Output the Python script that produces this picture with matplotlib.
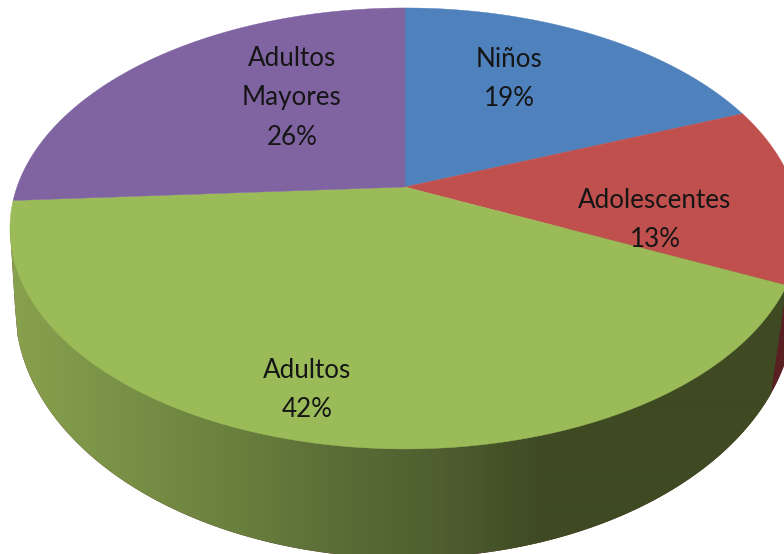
import numpy as np
import matplotlib
matplotlib.use("Agg")
import matplotlib.pyplot as plt
from matplotlib.colors import LinearSegmentedColormap
from matplotlib.patches import Polygon

categories = ["Niños", "Adolescentes", "Adultos", "Adultos\nMayores"]
values = [19, 13, 42, 26]
colors = ["#4f81bd", "#c0504d", "#9bbb59", "#8064a2"]
label_xy = [(509, 79), (655, 220), (307, 390), (292, 98)]

# perspective of the tilted disc, in picture pixels
APEX = (405, 187)
A, B, K = 212.7, 388.0, 0.188
# outline of the underside
CX, CY, RX, RY = 405, 307, 390, 251


def top_point(frac):
    # frac is the share of the pie, clockwise from 12 o'clock
    th = 2 * np.pi * np.asarray(frac)
    w = 1 + K * np.cos(th)
    return np.column_stack([APEX[0] + B * np.sin(th) / w, APEX[1] - A * np.cos(th) / w])


def under_arc(x0, x1):
    dx = np.linspace(x0, x1, 300) - CX
    return np.column_stack([CX + dx, CY + RY * np.sqrt(np.clip(1 - (dx / RX) ** 2, 0, 1))])


fig = plt.figure(figsize=(7.84, 5.54), dpi=100)
ax = fig.add_axes([0, 0, 1, 1])
ax.set_xlim(0, 784)
ax.set_ylim(554, 0)
ax.axis("off")

# side wall: dark red sliver behind, shaded green in front
under = under_arc(CX - RX, CX + RX)
wall = np.vstack([top_point([0.72]), under, top_point([0.28])])
ax.add_patch(Polygon(wall, closed=True, fc="#5a1f22", ec="none", zorder=1))

cuts = np.cumsum([0] + values) / sum(values)
corner = top_point([cuts[2]])[0]
green_wall = np.vstack([top_point([0.72]), under_arc(CX - RX, 771), corner])
shade = LinearSegmentedColormap.from_list(
    "wall", [(0, "#8aa34f"), (0.33, "#667c3c"), (0.44, "#596c36"), (0.56, "#4f5f30"), (0.69, "#3f4a23"), (1, "#3f4a23")]
)
im = ax.imshow(np.linspace(0, 1, 784).reshape(1, -1), extent=(0, 784, 554, 0), aspect="auto",
               cmap=shade, zorder=2, interpolation="bilinear")
im.set_clip_path(Polygon(green_wall, closed=True, transform=ax.transData))

# top face
for i, c in enumerate(colors):
    arc = top_point(np.linspace(cuts[i], cuts[i + 1], 200))
    ax.add_patch(Polygon(np.vstack([APEX, arc]), closed=True, fc=c, ec=c, lw=0.3, zorder=3))

for name, v, (x, y) in zip(categories, values, label_xy):
    ax.text(x, y, f"{name}\n{v}%", ha="center", va="center", family="Lato", fontsize=18.7,
            color="#151515", linespacing=1.72, zorder=4)

fig.savefig("out.png", dpi=100)
